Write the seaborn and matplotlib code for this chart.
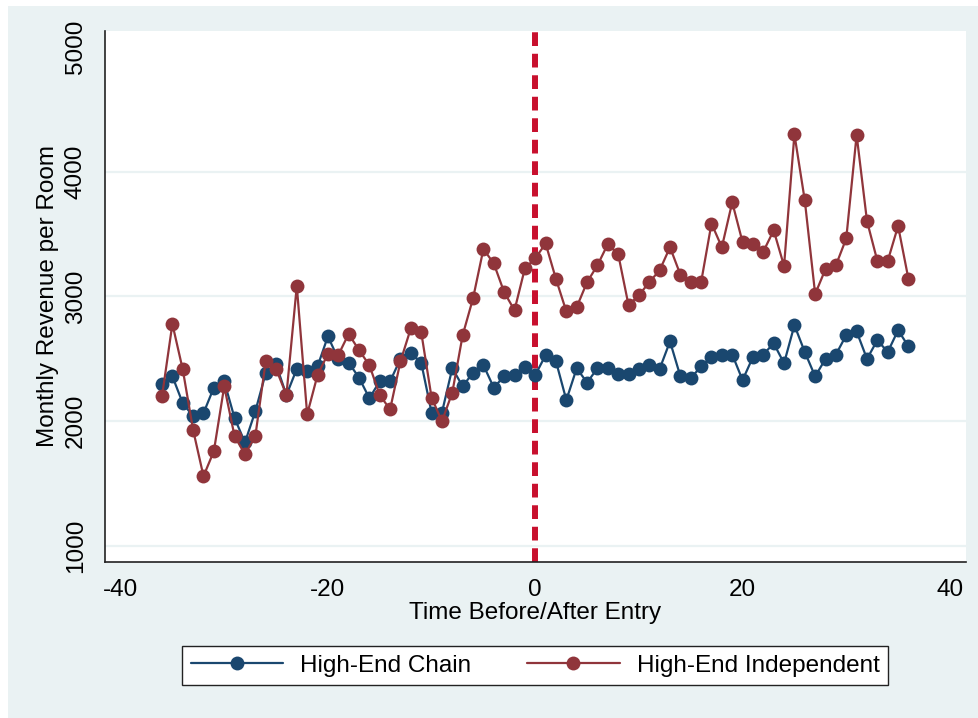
import numpy as np
import pandas as pd
import matplotlib
matplotlib.use('Agg')
import matplotlib.pyplot as plt
import matplotlib.patches as patches
import seaborn as sns

sns.set_style('white')
plt.rcParams['font.family'] = ['Liberation Sans', 'DejaVu Sans']
plt.rcParams['axes.unicode_minus'] = False
plt.rcParams['text.color'] = 'black'
plt.rcParams['axes.labelcolor'] = 'black'
plt.rcParams['xtick.color'] = 'black'
plt.rcParams['ytick.color'] = 'black'

# months relative to entry
months = list(range(-36, 37))

chain = [2300, 2360, 2145, 2040, 2065, 2270, 2320, 2025, 1830, 2080,
         2385, 2455, 2210, 2420, 2400, 2440, 2680, 2500, 2470, 2350,
         2185, 2320, 2320, 2500, 2545, 2470, 2070, 2070, 2425, 2280,
         2390, 2450, 2270, 2360, 2370, 2435, 2370, 2530, 2480, 2170,
         2425, 2310, 2425, 2425, 2375, 2375, 2420, 2450, 2420, 2640,
         2360, 2345, 2440, 2515, 2530, 2535, 2330, 2515, 2535, 2625,
         2465, 2770, 2555, 2360, 2500, 2535, 2690, 2720, 2500, 2650,
         2555, 2730, 2600]

independent = [2200, 2780, 2415, 1930, 1560, 1760, 2280, 1880, 1735, 1880,
               2480, 2420, 2210, 3085, 2055, 2370, 2540, 2530, 2700, 2570,
               2450, 2210, 2095, 2480, 2745, 2715, 2190, 2000, 2230, 2690,
               2985, 3380, 3265, 3035, 2890, 3225, 3305, 3425, 3140, 2880,
               2915, 3115, 3250, 3420, 3340, 2930, 3010, 3115, 3210, 3395,
               3175, 3120, 3115, 3585, 3395, 3755, 3435, 3420, 3360, 3530,
               3245, 4300, 3770, 3020, 3220, 3250, 3465, 4295, 3605, 3285,
               3285, 3565, 3140]

series_names = ['High-End Chain', 'High-End Independent']
colors = ['#1a476f', '#90353b']
y_ticks = [1000, 2000, 3000, 4000, 5000]
x_ticks = [-40, -20, 0, 20, 40]

df = pd.DataFrame({
    'month': months * 2,
    'revenue': chain + independent,
    'group': [series_names[0]] * len(months) + [series_names[1]] * len(months),
})

bg = '#eaf2f3'
fs = 17.5

fig = plt.figure(figsize=(9.79, 7.18), dpi=100, facecolor='white')
fig.patches.append(patches.Rectangle((8 / 979, 0), 1, 1 - 6 / 718, transform=fig.transFigure,
                                     facecolor=bg, edgecolor='none', zorder=-10))
ax = fig.add_axes([105 / 979, 1 - 562 / 718, (966 - 105) / 979, (562 - 31) / 718])
ax.set_facecolor('white')

ax.axvline(0, color='#c8102e', lw=4.3, dashes=(2.3, 1.3), zorder=1)

sns.lineplot(data=df, x='month', y='revenue', hue='group', palette=colors,
             hue_order=series_names, marker='o', markersize=10, markeredgewidth=0,
             linewidth=1.6, ax=ax, legend=False, zorder=3)

ax.set_xlim(-41.5, 41.55)
ax.set_ylim(872, 5128)
ax.set_xticks(x_ticks)
ax.set_yticks(y_ticks)
ax.set_yticklabels([str(v) for v in y_ticks], rotation=90, va='center')
ax.tick_params(axis='both', labelsize=fs, length=7, width=1, color='#222222', direction='out')
ax.tick_params(axis='y', pad=6)
ax.tick_params(axis='x', pad=5)

ax.grid(axis='y', color=bg, lw=1.6)
ax.set_axisbelow(True)
ax.yaxis.get_gridlines()[-1].set_visible(False)  # no grid at top tick
for s in ['top', 'right']:
    ax.spines[s].set_visible(False)
for s in ['left', 'bottom']:
    ax.spines[s].set_color('#222222')
    ax.spines[s].set_linewidth(1.2)

ax.set_xlabel('Time Before/After Entry', fontsize=fs, labelpad=1)
ax.set_ylabel('Monthly Revenue per Room', fontsize=fs, labelpad=4)

handles = ax.get_lines()[1:3]
leg = fig.legend(handles, series_names, loc='center', ncol=2,
                 bbox_to_anchor=(182 / 979, 1 - 688 / 718, (888 - 182) / 979, 45 / 718),
                 mode='expand', fontsize=fs, frameon=True, fancybox=False,
                 handlelength=3.8, handletextpad=0.7, columnspacing=1.6, borderpad=0.35,
                 borderaxespad=0)
leg.get_frame().set_edgecolor('#222222')
leg.get_frame().set_linewidth(1.0)
leg.get_frame().set_facecolor('white')
leg.get_frame().set_alpha(1)

fig.savefig('out.png', dpi=100, facecolor=fig.get_facecolor())
